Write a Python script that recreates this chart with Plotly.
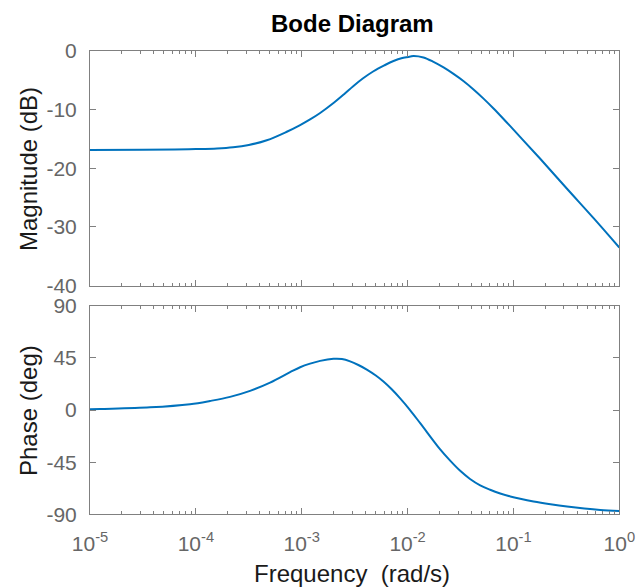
import plotly.graph_objects as go

# Magnitude readings (log10 of frequency in rad/s, dB)
mag_logw = [-5.0, -4.5, -4.2, -4.0, -3.8, -3.648, -3.5, -3.33, -3.141, -3.015, -2.921, -2.826, -2.7,
            -2.6, -2.511, -2.42, -2.322, -2.22, -2.133, -2.05, -1.975, -1.944, -1.85, -1.755, -1.66,
            -1.566, -1.47, -1.377, -1.28, -1.188, -1.1, -1.03, -0.92, -0.747, -0.494, -0.243, 0.0]
mag_db = [-16.9, -16.85, -16.8, -16.75, -16.65, -16.45, -16.05, -15.25, -13.8, -12.66, -11.7, -10.6, -8.9,
          -7.4, -6.0, -4.7, -3.5, -2.5, -1.75, -1.25, -1.0, -0.9, -1.15, -1.9, -2.85,
          -3.95, -5.2, -6.6, -8.2, -9.84, -11.5, -12.85, -15.0, -18.4, -23.5, -28.5, -33.5]

# Phase readings (log10 of frequency in rad/s, degrees)
ph_logw = [-5.0, -4.905, -4.433, -4.055, -3.866, -3.677, -3.488, -3.299, -3.11, -3.015,
           -2.921, -2.826, -2.7, -2.62, -2.543, -2.46, -2.385, -2.3, -2.228, -2.15, -2.07,
           -1.975, -1.881, -1.692, -1.6, -1.503, -1.41, -1.314, -1.22, -1.125, -1.03, -0.936,
           -0.81, -0.65, -0.494, -0.33, -0.18, 0.0]
ph_deg = [0.6, 0.9, 2.3, 5.0, 7.8, 11.3, 16.5, 23.6, 32.6, 36.9,
          40.0, 42.4, 44.2, 44.0, 42.0, 38.6, 34.85, 29.75, 24.55, 17.85, 10.0,
          -0.26, -11.35, -34.0, -43.5, -52.5, -59.5, -65.0, -68.8, -72.0, -74.6, -76.6,
          -78.9, -81.3, -83.3, -85.0, -86.2, -87.1]

dec_vals = [1e-5, 1e-4, 1e-3, 1e-2, 1e-1, 1e0]
dec_text = ["10<sup>-5</sup>", "10<sup>-4</sup>", "10<sup>-3</sup>", "10<sup>-2</sup>",
            "10<sup>-1</sup>", "10<sup>0</sup>"]
mag_ticks = [0, -10, -20, -30, -40]
mag_text = ["0", "-10", "-20", "-30", "-40"]
ph_ticks = [90, 45, 0, -45, -90]
ph_text = ["90", "45", "0", "-45", "-90"]

minor_vals = [m * d for d in dec_vals[:-1] for m in range(2, 10)]

mag_w = [10 ** v for v in mag_logw]
ph_w = [10 ** v for v in ph_logw]

W, H = 636, 587
LINE = "#0072BD"
AX = "#808080"
TXT = "#666666"
FONT = "Liberation Sans, Arial, Helvetica, sans-serif"

fig = go.Figure()
fig.add_trace(go.Scatter(x=mag_w, y=mag_db, mode="lines", line=dict(color=LINE, width=2, shape="spline"),
                         xaxis="x", yaxis="y", showlegend=False, hoverinfo="skip"))
fig.add_trace(go.Scatter(x=ph_w, y=ph_deg, mode="lines", line=dict(color=LINE, width=2, shape="spline"),
                         xaxis="x2", yaxis="y2", showlegend=False, hoverinfo="skip"))

x0, x1 = 90 / W, 619.3 / W
top_dom = [(H - 285.7) / H, (H - 50.7) / H]
bot_dom = [(H - 514.3) / H, (H - 305.7) / H]

common_x = dict(type="log", range=[-5, 0], domain=[x0, x1], showline=True, linecolor=AX, linewidth=1,
                mirror="ticks", ticks="inside", ticklen=6, tickcolor=AX, showgrid=False, zeroline=False,
                automargin=False, tickvals=dec_vals,
                minor=dict(tickvals=minor_vals, ticks="inside", ticklen=3, tickcolor=AX, showgrid=False),
                tickfont=dict(family=FONT, size=21, color=TXT))
common_y = dict(showline=True, linecolor=AX, linewidth=1, mirror="ticks", ticks="inside", ticklen=6,
                tickcolor=AX, showgrid=False, zeroline=False, ticklabelstandoff=8, automargin=False,
                tickfont=dict(family=FONT, size=21, color=TXT))

fig.update_layout(
    width=W, height=H, margin=dict(l=0, r=0, t=0, b=0, pad=0), autosize=False,
    paper_bgcolor="white", plot_bgcolor="white",
    xaxis=dict(common_x, anchor="y", showticklabels=False),
    yaxis=dict(common_y, domain=top_dom, range=[-40, 0], tickvals=mag_ticks, ticktext=mag_text, anchor="x"),
    xaxis2=dict(common_x, anchor="y2", ticktext=dec_text, ticklabelstandoff=10),
    yaxis2=dict(common_y, domain=bot_dom, range=[-90, 90], tickvals=ph_ticks, ticktext=ph_text, anchor="x2"),
    annotations=[
        dict(text="<b>Bode Diagram</b>", x=352 / W, y=1 - 23 / H, xref="paper", yref="paper",
             xanchor="center", yanchor="middle",
             showarrow=False, font=dict(family=FONT, size=24, color="black")),
        dict(text="Frequency\u00a0 (rad/s)", x=352 / W, y=1 - 573 / H, xref="paper", yref="paper",
             xanchor="center", yanchor="middle",
             showarrow=False, font=dict(family=FONT, size=24, color="#1a1a1a")),
        dict(text="Magnitude (dB)", x=28 / W, y=1 - 169 / H, xref="paper", yref="paper", textangle=-90,
             xanchor="center", yanchor="middle",
             showarrow=False, font=dict(family=FONT, size=24, color="#1a1a1a")),
        dict(text="Phase (deg)", x=28 / W, y=1 - 411 / H, xref="paper", yref="paper", textangle=-90,
             xanchor="center", yanchor="middle",
             showarrow=False, font=dict(family=FONT, size=24, color="#1a1a1a")),
    ],
)

fig.write_html("out.html")
